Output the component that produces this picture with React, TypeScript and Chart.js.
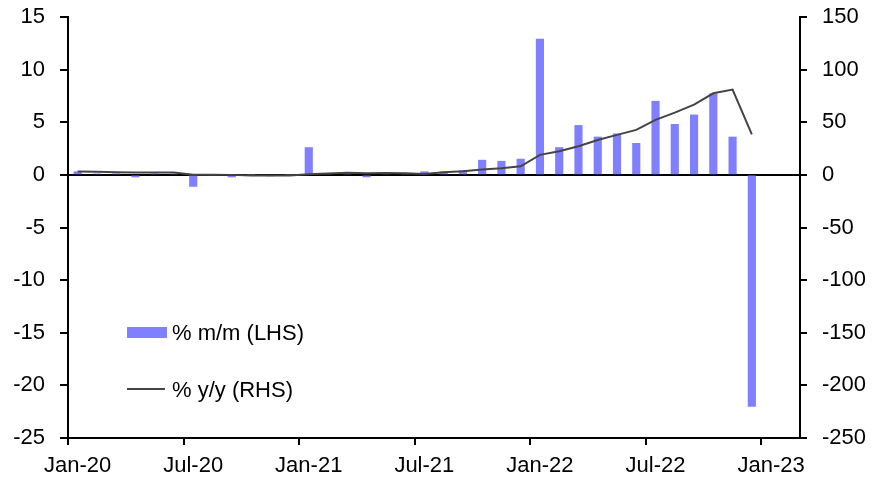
import React, { useEffect, useRef } from "react";
import { Chart, registerables } from "chart.js";

Chart.register(...registerables);

const months = [
  "Jan-20", "Feb-20", "Mar-20", "Apr-20", "May-20", "Jun-20",
  "Jul-20", "Aug-20", "Sep-20", "Oct-20", "Nov-20", "Dec-20",
  "Jan-21", "Feb-21", "Mar-21", "Apr-21", "May-21", "Jun-21",
  "Jul-21", "Aug-21", "Sep-21", "Oct-21", "Nov-21", "Dec-21",
  "Jan-22", "Feb-22", "Mar-22", "Apr-22", "May-22", "Jun-22",
  "Jul-22", "Aug-22", "Sep-22", "Oct-22", "Nov-22", "Dec-22",
];

// % m/m (LHS)
const mmValues = [
  0.3, 0.1, 0.1, -0.2, 0.1, 0.1,
  -1.1, 0.0, -0.2, 0.0, -0.1, 0.0,
  2.6, 0.1, 0.2, -0.2, 0.1, 0.1,
  0.3, 0.3, 0.4, 1.4, 1.3, 1.5,
  12.9, 2.6, 4.7, 3.6, 3.9, 3.0,
  7.0, 4.8, 5.7, 7.7, 3.6, -22.0,
];

// % y/y (RHS)
const yyValues = [
  3.2, 3.0, 2.6, 2.3, 2.2, 2.2,
  0.2, 0.1, 0.0, -0.5, -0.6, -0.5,
  0.5, 1.2, 2.0, 1.6, 1.8, 1.6,
  0.8, 2.6, 3.5, 5.0, 6.3, 8.2,
  19.0, 22.4, 27.2, 33.2, 38.0, 42.7,
  52.2, 59.2, 66.8, 77.5, 81.0, 38.5,
];

const xTickValues = [0, 6, 12, 18, 24, 30, 36];
const xTickLabels = ["Jan-20", "Jul-20", "Jan-21", "Jul-21", "Jan-22", "Jul-22", "Jan-23"];

const barLabel = "% m/m (LHS)";
const lineLabel = "% y/y (RHS)";
const barColor = "#8080ff";
const lineColor = "#444444";
const FONT = "'Liberation Sans', Arial, sans-serif";

export default function App() {
  const canvasRef = useRef<HTMLCanvasElement | null>(null);

  useEffect(() => {
    const canvas = canvasRef.current;
    if (!canvas) return;
    const chart = new Chart(canvas, {
      type: "bar",
      data: {
        datasets: [
          {
            type: "line",
            label: lineLabel,
            data: months.map((m, i) => ({ x: i + 0.5, y: yyValues[i] })),
            yAxisID: "y1",
            xAxisID: "x",
            borderColor: lineColor,
            backgroundColor: lineColor,
            borderWidth: 2,
            pointRadius: 0,
            tension: 0,
            order: 0,
          } as any,
          {
            type: "bar",
            label: barLabel,
            data: months.map((m, i) => ({ x: i + 0.5, y: mmValues[i] })),
            yAxisID: "y",
            xAxisID: "x",
            backgroundColor: barColor,
            borderWidth: 0,
            barThickness: 7.5,
            order: 1,
          } as any,
        ],
      },
      options: {
        responsive: false,
        animation: false,
        devicePixelRatio: 1,
        layout: { padding: { top: 17, left: 0, right: 0, bottom: 0 } },
        plugins: {
          legend: { display: false },
          tooltip: { enabled: false },
        },
        scales: {
          x: {
            type: "linear",
            position: "bottom",
            offset: false,
            min: 0,
            max: 38,
            afterBuildTicks: (scale: any) => {
              scale.ticks = xTickValues.map((v) => ({ value: v }));
            },
            afterFit: (scale: any) => {
              scale.height = 47;
              scale.paddingLeft = 0;
              scale.paddingRight = 0;
            },
            ticks: {
              autoSkip: false,
              maxRotation: 0,
              labelOffset: 9.6,
              padding: 8,
              color: "#000",
              font: { family: FONT, size: 22 },
              callback: (v: any) => {
                const idx = xTickValues.indexOf(Number(v));
                return idx >= 0 ? xTickLabels[idx] : "";
              },
            },
            grid: {
              display: true,
              offset: false,
              drawOnChartArea: false,
              drawTicks: true,
              tickLength: 7,
              tickColor: "#000",
              lineWidth: 2,
            },
            border: { display: true, color: "#000", width: 2 },
          },
          y: {
            type: "linear",
            position: "left",
            min: -25,
            max: 15,
            afterFit: (scale: any) => {
              scale.width = 68;
              scale.paddingTop = 0;
              scale.paddingBottom = 0;
            },
            ticks: {
              stepSize: 5,
              padding: 15,
              color: "#000",
              font: { family: FONT, size: 22 },
            },
            grid: {
              display: true,
              drawOnChartArea: true,
              drawTicks: true,
              tickLength: 8,
              lineWidth: 2,
              tickColor: "#000",
              color: (ctx: any) => (ctx.tick && ctx.tick.value === 0 ? "#000" : "rgba(0,0,0,0)"),
            },
            border: { display: true, color: "#000", width: 2 },
          },
          y1: {
            type: "linear",
            position: "right",
            min: -250,
            max: 150,
            afterFit: (scale: any) => {
              scale.width = 74;
              scale.paddingTop = 0;
              scale.paddingBottom = 0;
            },
            ticks: {
              stepSize: 50,
              padding: 15,
              color: "#000",
              font: { family: FONT, size: 22 },
            },
            grid: {
              display: true,
              drawOnChartArea: false,
              drawTicks: true,
              tickLength: 7,
              lineWidth: 2,
              tickColor: "#000",
            },
            border: { display: true, color: "#000", width: 2 },
          },
        },
      } as any,
    });
    return () => chart.destroy();
  }, []);

  const textStyle: React.CSSProperties = {
    position: "absolute",
    left: 172,
    fontFamily: FONT,
    fontSize: 22,
    lineHeight: "22px",
    color: "#000",
    whiteSpace: "nowrap",
  };

  return (
    <div style={{ position: "absolute", left: 0, top: 0, width: 874, height: 485, background: "#fff" }}>
      <canvas ref={canvasRef} width={874} height={485} style={{ display: "block", width: 874, height: 485 }} />
      <div style={{ position: "absolute", left: 127, top: 327, width: 40, height: 11, background: barColor }} />
      <div style={{ ...textStyle, top: 322 }}>{barLabel}</div>
      <div style={{ position: "absolute", left: 127, top: 388, width: 38, height: 2, background: lineColor }} />
      <div style={{ ...textStyle, top: 379 }}>{lineLabel}</div>
    </div>
  );
}
